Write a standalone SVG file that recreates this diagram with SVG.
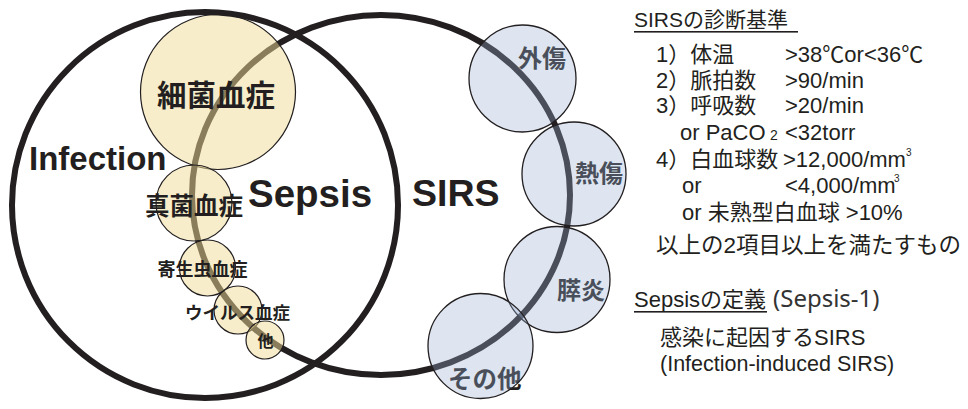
<svg xmlns="http://www.w3.org/2000/svg" width="968" height="409" viewBox="0 0 968 409">
<style>
.big{fill:none;stroke:#231f20;stroke-width:6}
.yc{fill:#f0dc96;fill-opacity:0.5;stroke:#231f20;stroke-width:1.2}
.bc{fill:#9ab0d6;fill-opacity:0.33;stroke:#231f20;stroke-width:1.3}
.yt{font-family:"Noto Sans CJK JP",sans-serif;font-weight:bold;fill:#231f20;text-anchor:middle}
.bt{font-family:"Noto Sans CJK JP",sans-serif;font-weight:bold;fill:#231f20}
.lab{font-family:"Liberation Sans",Arial,sans-serif;font-weight:bold;fill:#231f20}
.rt{font-family:"Liberation Sans","Noto Sans CJK JP",sans-serif;fill:#231f20}
</style>
<rect width="968" height="409" fill="#ffffff"/>
<g id="connectors">
<ellipse id="sirs-circle" class="big" cx="381" cy="195" rx="189" ry="180"/>
</g>
<g id="bacteremia"><circle class="yc" cx="218" cy="92" r="77.5"/></g>
<g id="fungemia"><circle class="yc" cx="194" cy="203" r="38"/></g>
<g id="parasitemia"><circle class="yc" cx="207.5" cy="268" r="28"/></g>
<g id="viremia"><circle class="yc" cx="238" cy="310" r="24"/></g>
<g id="other-infection"><circle class="yc" cx="265" cy="340" r="19"/></g>
<g id="infection-circle"><circle class="big" cx="205" cy="205" r="193"/></g>
<g id="yellow-labels">
<text class="yt" x="216" y="106" font-size="29.5">細菌血症</text>
<text class="yt" x="194" y="215" font-size="24.5">真菌血症</text>
<text class="yt" x="202.5" y="276" font-size="18">寄生虫血症</text>
<text class="yt" x="237.5" y="319" font-size="17.5">ウイルス血症</text>
<text class="yt" x="265.5" y="347" font-size="16">他</text>
</g>
<g id="trauma"><text class="bt" x="518" y="67" font-size="24">外傷</text><circle class="bc" cx="522.5" cy="78.5" r="53.5"/></g>
<g id="burn"><text class="bt" x="575" y="182" font-size="24">熱傷</text><circle class="bc" cx="574" cy="174" r="52"/></g>
<g id="pancreatitis"><text class="bt" x="557" y="299" font-size="24">膵炎</text><circle class="bc" cx="557" cy="279.5" r="53"/></g>
<g id="other-sirs"><text class="bt" x="448" y="388" font-size="24.5">その他</text><circle class="bc" cx="480.5" cy="346" r="52.5"/></g>
<g id="labels">
<text class="lab" x="29" y="170" font-size="33">Infection</text>
<text class="lab" x="248" y="207" font-size="38.5">Sepsis</text>
<text class="lab" x="412" y="206" font-size="37.5">SIRS</text>
</g>
<g id="criteria">
<text class="rt" x="634" y="27" font-size="21">SIRSの診断基準</text>
<rect x="634" y="31" width="164" height="1.6" fill="#231f20"/>
<text class="rt" x="656" y="62" font-size="22">1）体温</text>
<text class="rt" x="785" y="62" font-size="22">&gt;38℃or&lt;36℃</text>
<text class="rt" x="656" y="88" font-size="22">2）脈拍数</text>
<text class="rt" x="785" y="88" font-size="22">&gt;90/min</text>
<text class="rt" x="656" y="113" font-size="22">3）呼吸数</text>
<text class="rt" x="785" y="113" font-size="22">&gt;20/min</text>
<text class="rt" x="680" y="140" font-size="22">or PaCO</text>
<text class="rt" x="770" y="140" font-size="14">2</text>
<text class="rt" x="785" y="140" font-size="22">&lt;32torr</text>
<text class="rt" x="656" y="167" font-size="22">4）白血球数</text>
<text class="rt" x="783" y="167" font-size="22">&gt;12,000/mm</text>
<text class="rt" x="906" y="156" font-size="10">3</text>
<text class="rt" x="682" y="193" font-size="22">or</text>
<text class="rt" x="785" y="193" font-size="22">&lt;4,000/mm</text>
<text class="rt" x="894" y="182" font-size="10">3</text>
<text class="rt" x="682" y="220" font-size="22">or 未熟型白血球 &gt;10%</text>
<text class="rt" x="656" y="253" font-size="22.5">以上の2項目以上を満たすもの</text>
</g>
<g id="definition">
<text class="rt" x="634" y="307" font-size="22">Sepsisの定義</text>
<rect x="634" y="311" width="133" height="1.6" fill="#231f20"/>
<text x="773" y="307" font-family="Noto Sans, sans-serif" font-size="24" fill="#333333">(Sepsis-1)</text>
<text class="rt" x="660" y="345" font-size="22">感染に起因するSIRS</text>
<text class="rt" x="660" y="371" font-size="21.5">(Infection-induced SIRS)</text>
</g>
</svg>
